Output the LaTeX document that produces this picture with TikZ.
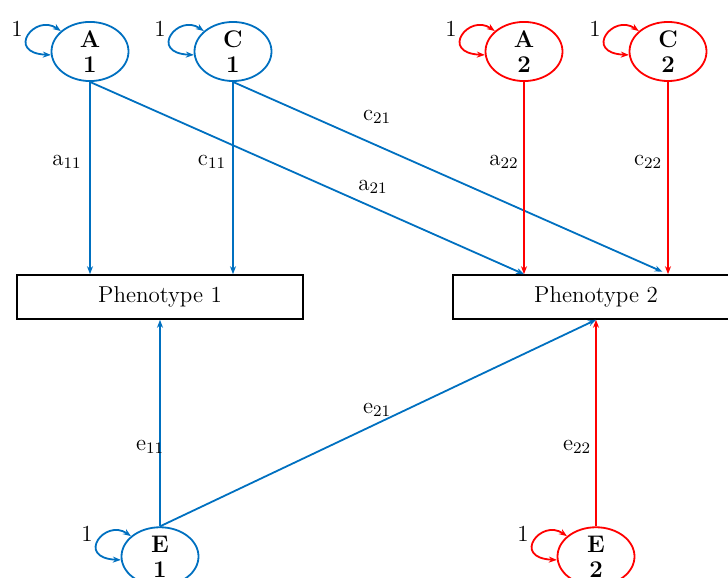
\documentclass[tikz,border=0pt]{standalone}
\usepackage{tikz}
\usetikzlibrary{shapes.geometric,arrows.meta}
\definecolor{pathblue}{RGB}{0,112,192}
\definecolor{pathred}{RGB}{255,0,0}

\begin{document}
\begin{tikzpicture}[x=0.5pt,y=0.5pt,
        font=\fontsize{11.5}{12.5}\selectfont,
        latent/.style={ellipse,line width=0.9pt,minimum width=38.5pt,minimum height=23.5pt,
            inner sep=0pt,align=center,font=\fontsize{12}{12.5}\selectfont\bfseries},
        pheno/.style={rectangle,draw,line width=0.8pt,minimum width=143pt,minimum height=22pt,inner sep=0pt},
        path/.style={line width=0.9pt,-{Stealth[length=4pt,width=3pt]}},
        varpath/.style={line width=0.9pt,{Stealth[length=4pt,width=3pt]}-{Stealth[length=4pt,width=3pt]}}]
        \useasboundingbox (0,0) rectangle (728,578);
        % latent factors
        \node[latent,draw=pathblue] (A1) at (90,526.5) {A\\1};
        \node[latent,draw=pathblue] (C1) at (233,526.5) {C\\1};
        \node[latent,draw=pathred] (A2) at (524,526.5) {A\\2};
        \node[latent,draw=pathred] (C2) at (668,526.5) {C\\2};
        \node[latent,draw=pathblue] (E1) at (160,21.5) {E\\1};
        \node[latent,draw=pathred] (E2) at (596,21.5) {E\\2};
        % phenotypes
        \node[pheno] (P1) at (160,281) {Phenotype 1};
        \node[pheno] (P2) at (596,281) {Phenotype 2};
        % variances
        \foreach \n/\c in {A1/pathblue,C1/pathblue,A2/pathred,C2/pathred,E1/pathblue,E2/pathred}{
            \draw[varpath,\c] (\n.145) .. controls +(-26,18) and +(-46,2) .. (\n.185);
            \node (var\n) at ([shift={(-73,23)}]\n.center) {1};
        }
        % paths
        \draw[path,pathblue] (A1.south) -- (A1.south |- P1.north);
        \draw[path,pathblue] (C1.south) -- (C1.south |- P1.north);
        \draw[path,pathblue] (A1.south) -- (A2.south |- P2.north);
        \draw[path,pathblue,shorten >=3pt] (C1.south) -- (C2.south |- P2.north);
        \draw[path,pathred] (A2.south) -- (A2.south |- P2.north);
        \draw[path,pathred] (C2.south) -- (C2.south |- P2.north);
        \draw[path,pathblue] (E1.north) -- (E1.north |- P1.south);
        \draw[path,pathblue] (E1.north) -- (E2.north |- P2.south);
        \draw[path,pathred] (E2.north) -- (E2.north |- P2.south);
        % path labels
        \node (la11) at (67,416) {a$_{11}$};
        \node (lc11) at (212,416) {c$_{11}$};
        \node (lc21) at (377,461) {c$_{21}$};
        \node (la21) at (373,391) {a$_{21}$};
        \node (la22) at (504,416) {a$_{22}$};
        \node (lc22) at (648,416) {c$_{22}$};
        \node (le11) at (150,131) {e$_{11}$};
        \node (le21) at (377,168) {e$_{21}$};
        \node (le22) at (577,131) {e$_{22}$};
    \end{tikzpicture}
\end{document}
